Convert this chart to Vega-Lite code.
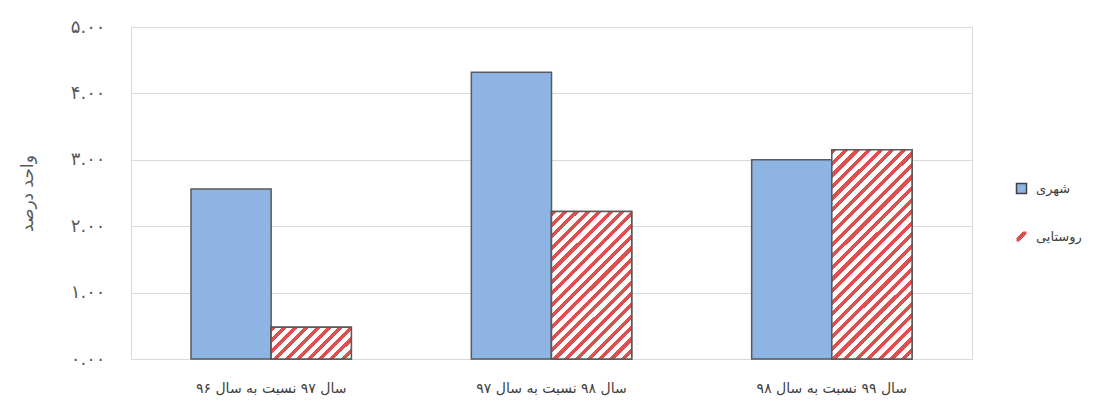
{
  "$schema": "https://vega.github.io/schema/vega-lite/v6.json",
  "width": 841,
  "height": 332,
  "autosize": "none",
  "padding": {"left": 131, "top": 27, "right": 127, "bottom": 46},
  "background": "#ffffff",
  "config": {
    "font": "DejaVu Sans",
    "view": {"stroke": "#d9d9d9", "strokeWidth": 1}
  },
  "data": {
    "values": [
      {"period": "سال ۹۷ نسبت به سال ۹۶", "series": "شهری", "value": 2.56},
      {"period": "سال ۹۷ نسبت به سال ۹۶", "series": "روستایی", "value": 0.48},
      {"period": "سال ۹۸ نسبت به سال ۹۷", "series": "شهری", "value": 4.32},
      {"period": "سال ۹۸ نسبت به سال ۹۷", "series": "روستایی", "value": 2.22},
      {"period": "سال ۹۹ نسبت به سال ۹۸", "series": "شهری", "value": 3.0},
      {"period": "سال ۹۹ نسبت به سال ۹۸", "series": "روستایی", "value": 3.15}
    ]
  },
  "encoding": {
    "x": {
      "field": "period", "type": "nominal",
      "sort": ["سال ۹۷ نسبت به سال ۹۶", "سال ۹۸ نسبت به سال ۹۷", "سال ۹۹ نسبت به سال ۹۸"],
      "scale": {"paddingInner": 0.428, "paddingOuter": 0.214},
      "axis": {"title": null, "labelAngle": 0, "labelFontSize": 14, "labelColor": "#404040", "labelPadding": 22, "ticks": false, "domainColor": "#d9d9d9", "grid": false}
    },
    "xOffset": {
      "field": "series", "type": "nominal",
      "scale": {"domain": ["شهری", "روستایی"], "paddingInner": 0, "paddingOuter": 0}
    },
    "y": {
      "field": "value", "type": "quantitative",
      "scale": {"domain": [0, 5], "nice": false},
      "axis": {
        "title": "واحد درصد", "titleFontSize": 17, "titleFontWeight": "normal", "titleColor": "#595959", "titlePadding": 34,
        "values": [0, 1, 2, 3, 4, 5],
        "labelExpr": "replace(replace(replace(replace(replace(replace(format(datum.value, '.2f'), regexp('0','g'), '۰'), regexp('1','g'), '۱'), regexp('2','g'), '۲'), regexp('3','g'), '۳'), regexp('4','g'), '۴'), regexp('5','g'), '۵')",
        "labelFontSize": 18, "labelColor": "#595959", "labelPadding": 26,
        "ticks": false, "domain": false, "gridColor": "#d9d9d9"
      }
    }
  },
  "layer": [
    {
      "transform": [{"filter": "datum.series === 'شهری'"}],
      "mark": {"type": "bar", "stroke": "#5a5a5a", "strokeWidth": 1.5},
      "encoding": {
        "color": {
          "field": "series", "type": "nominal",
          "scale": {"domain": ["شهری"], "range": ["#8db4e2"]},
          "legend": {
            "title": null, "orient": "none", "legendX": 884, "legendY": 155,
            "symbolType": "square", "symbolSize": 100, "symbolStrokeColor": "#404040", "symbolStrokeWidth": 1.5,
            "labelFontSize": 13, "labelColor": "#404040", "labelOffset": 8
          }
        }
      }
    },
    {
      "transform": [{"filter": "datum.series === 'روستایی'"}],
      "mark": {"type": "bar", "stroke": "#404040", "strokeOpacity": 1, "strokeWidth": 1.5, "fill": {"gradient": "linear", "x1": 0, "y1": 0, "x2": 1, "y2": 1, "stops": [
        {"offset": 0, "color": "#ffffff"}, {"offset": 0.3, "color": "#ffffff"}, {"offset": 0.3, "color": "#de5050"}, {"offset": 0.62, "color": "#de5050"}, {"offset": 0.62, "color": "#ffffff"}, {"offset": 1, "color": "#ffffff"}
      ]}},
      "encoding": {
        "opacity": {
          "field": "series", "type": "nominal",
          "scale": {"domain": ["روستایی"], "range": [1]},
          "legend": {
            "title": null, "orient": "none", "legendX": 884, "legendY": 203,
            "symbolType": "square", "symbolSize": 100, "symbolStrokeColor": "#404040", "symbolStrokeWidth": 1.5,
            "labelFontSize": 13, "labelColor": "#404040", "labelOffset": 8,
            "encode": {"symbols": {
              "enter": {"stroke": {"value": "#404040"}, "strokeWidth": {"value": 1.5}, "strokeOpacity": {"value": 1}},
              "update": {"stroke": {"value": "#404040"}, "strokeWidth": {"value": 1.5}, "strokeOpacity": {"value": 1}}
            }}
          }
        }
      }
    },
    {
      "transform": [{"filter": "datum.series === 'روستایی' && datum.period === 'سال ۹۷ نسبت به سال ۹۶'"}],
      "mark": {"type": "bar", "stroke": "#5a5a5a", "strokeWidth": 1.5, "fill": {"gradient": "linear", "x1": 0, "y1": 0, "x2": 1.2069, "y2": 0.4812, "stops": [
        {"offset": 0, "color": "#de5050"}, {"offset": 0.045, "color": "#de5050"}, {"offset": 0.045, "color": "#ffffff"}, {"offset": 0.1, "color": "#ffffff"},
        {"offset": 0.1, "color": "#de5050"}, {"offset": 0.145, "color": "#de5050"}, {"offset": 0.145, "color": "#ffffff"}, {"offset": 0.2, "color": "#ffffff"},
        {"offset": 0.2, "color": "#de5050"}, {"offset": 0.245, "color": "#de5050"}, {"offset": 0.245, "color": "#ffffff"}, {"offset": 0.3, "color": "#ffffff"},
        {"offset": 0.3, "color": "#de5050"}, {"offset": 0.345, "color": "#de5050"}, {"offset": 0.345, "color": "#ffffff"}, {"offset": 0.4, "color": "#ffffff"},
        {"offset": 0.4, "color": "#de5050"}, {"offset": 0.445, "color": "#de5050"}, {"offset": 0.445, "color": "#ffffff"}, {"offset": 0.5, "color": "#ffffff"},
        {"offset": 0.5, "color": "#de5050"}, {"offset": 0.545, "color": "#de5050"}, {"offset": 0.545, "color": "#ffffff"}, {"offset": 0.6, "color": "#ffffff"},
        {"offset": 0.6, "color": "#de5050"}, {"offset": 0.645, "color": "#de5050"}, {"offset": 0.645, "color": "#ffffff"}, {"offset": 0.7, "color": "#ffffff"},
        {"offset": 0.7, "color": "#de5050"}, {"offset": 0.745, "color": "#de5050"}, {"offset": 0.745, "color": "#ffffff"}, {"offset": 0.8, "color": "#ffffff"},
        {"offset": 0.8, "color": "#de5050"}, {"offset": 0.845, "color": "#de5050"}, {"offset": 0.845, "color": "#ffffff"}, {"offset": 0.9, "color": "#ffffff"},
        {"offset": 0.9, "color": "#de5050"}, {"offset": 0.945, "color": "#de5050"}, {"offset": 0.945, "color": "#ffffff"}, {"offset": 1, "color": "#ffffff"}
      ]}},
      "encoding": {}
    },
    {
      "transform": [{"filter": "datum.series === 'روستایی' && datum.period === 'سال ۹۸ نسبت به سال ۹۷'"}],
      "mark": {"type": "bar", "stroke": "#5a5a5a", "strokeWidth": 1.5, "fill": {"gradient": "linear", "x1": 0, "y1": 0, "x2": 0.6468, "y2": 1.1917, "stops": [
        {"offset": 0, "color": "#de5050"}, {"offset": 0.0225, "color": "#de5050"}, {"offset": 0.0225, "color": "#ffffff"}, {"offset": 0.05, "color": "#ffffff"},
        {"offset": 0.05, "color": "#de5050"}, {"offset": 0.0725, "color": "#de5050"}, {"offset": 0.0725, "color": "#ffffff"}, {"offset": 0.1, "color": "#ffffff"},
        {"offset": 0.1, "color": "#de5050"}, {"offset": 0.1225, "color": "#de5050"}, {"offset": 0.1225, "color": "#ffffff"}, {"offset": 0.15, "color": "#ffffff"},
        {"offset": 0.15, "color": "#de5050"}, {"offset": 0.1725, "color": "#de5050"}, {"offset": 0.1725, "color": "#ffffff"}, {"offset": 0.2, "color": "#ffffff"},
        {"offset": 0.2, "color": "#de5050"}, {"offset": 0.2225, "color": "#de5050"}, {"offset": 0.2225, "color": "#ffffff"}, {"offset": 0.25, "color": "#ffffff"},
        {"offset": 0.25, "color": "#de5050"}, {"offset": 0.2725, "color": "#de5050"}, {"offset": 0.2725, "color": "#ffffff"}, {"offset": 0.3, "color": "#ffffff"},
        {"offset": 0.3, "color": "#de5050"}, {"offset": 0.3225, "color": "#de5050"}, {"offset": 0.3225, "color": "#ffffff"}, {"offset": 0.35, "color": "#ffffff"},
        {"offset": 0.35, "color": "#de5050"}, {"offset": 0.3725, "color": "#de5050"}, {"offset": 0.3725, "color": "#ffffff"}, {"offset": 0.4, "color": "#ffffff"},
        {"offset": 0.4, "color": "#de5050"}, {"offset": 0.4225, "color": "#de5050"}, {"offset": 0.4225, "color": "#ffffff"}, {"offset": 0.45, "color": "#ffffff"},
        {"offset": 0.45, "color": "#de5050"}, {"offset": 0.4725, "color": "#de5050"}, {"offset": 0.4725, "color": "#ffffff"}, {"offset": 0.5, "color": "#ffffff"},
        {"offset": 0.5, "color": "#de5050"}, {"offset": 0.5225, "color": "#de5050"}, {"offset": 0.5225, "color": "#ffffff"}, {"offset": 0.55, "color": "#ffffff"},
        {"offset": 0.55, "color": "#de5050"}, {"offset": 0.5725, "color": "#de5050"}, {"offset": 0.5725, "color": "#ffffff"}, {"offset": 0.6, "color": "#ffffff"},
        {"offset": 0.6, "color": "#de5050"}, {"offset": 0.6225, "color": "#de5050"}, {"offset": 0.6225, "color": "#ffffff"}, {"offset": 0.65, "color": "#ffffff"},
        {"offset": 0.65, "color": "#de5050"}, {"offset": 0.6725, "color": "#de5050"}, {"offset": 0.6725, "color": "#ffffff"}, {"offset": 0.7, "color": "#ffffff"},
        {"offset": 0.7, "color": "#de5050"}, {"offset": 0.7225, "color": "#de5050"}, {"offset": 0.7225, "color": "#ffffff"}, {"offset": 0.75, "color": "#ffffff"},
        {"offset": 0.75, "color": "#de5050"}, {"offset": 0.7725, "color": "#de5050"}, {"offset": 0.7725, "color": "#ffffff"}, {"offset": 0.8, "color": "#ffffff"},
        {"offset": 0.8, "color": "#de5050"}, {"offset": 0.8225, "color": "#de5050"}, {"offset": 0.8225, "color": "#ffffff"}, {"offset": 0.85, "color": "#ffffff"},
        {"offset": 0.85, "color": "#de5050"}, {"offset": 0.8725, "color": "#de5050"}, {"offset": 0.8725, "color": "#ffffff"}, {"offset": 0.9, "color": "#ffffff"},
        {"offset": 0.9, "color": "#de5050"}, {"offset": 0.9225, "color": "#de5050"}, {"offset": 0.9225, "color": "#ffffff"}, {"offset": 0.95, "color": "#ffffff"},
        {"offset": 0.95, "color": "#de5050"}, {"offset": 0.9725, "color": "#de5050"}, {"offset": 0.9725, "color": "#ffffff"}, {"offset": 1, "color": "#ffffff"}
      ]}},
      "encoding": {}
    },
    {
      "transform": [{"filter": "datum.series === 'روستایی' && datum.period === 'سال ۹۹ نسبت به سال ۹۸'"}],
      "mark": {"type": "bar", "stroke": "#5a5a5a", "strokeWidth": 1.5, "fill": {"gradient": "linear", "x1": 0, "y1": 0, "x2": 0.4612, "y2": 1.206, "stops": [
        {"offset": 0, "color": "#de5050"}, {"offset": 0.018, "color": "#de5050"}, {"offset": 0.018, "color": "#ffffff"}, {"offset": 0.04, "color": "#ffffff"},
        {"offset": 0.04, "color": "#de5050"}, {"offset": 0.058, "color": "#de5050"}, {"offset": 0.058, "color": "#ffffff"}, {"offset": 0.08, "color": "#ffffff"},
        {"offset": 0.08, "color": "#de5050"}, {"offset": 0.098, "color": "#de5050"}, {"offset": 0.098, "color": "#ffffff"}, {"offset": 0.12, "color": "#ffffff"},
        {"offset": 0.12, "color": "#de5050"}, {"offset": 0.138, "color": "#de5050"}, {"offset": 0.138, "color": "#ffffff"}, {"offset": 0.16, "color": "#ffffff"},
        {"offset": 0.16, "color": "#de5050"}, {"offset": 0.178, "color": "#de5050"}, {"offset": 0.178, "color": "#ffffff"}, {"offset": 0.2, "color": "#ffffff"},
        {"offset": 0.2, "color": "#de5050"}, {"offset": 0.218, "color": "#de5050"}, {"offset": 0.218, "color": "#ffffff"}, {"offset": 0.24, "color": "#ffffff"},
        {"offset": 0.24, "color": "#de5050"}, {"offset": 0.258, "color": "#de5050"}, {"offset": 0.258, "color": "#ffffff"}, {"offset": 0.28, "color": "#ffffff"},
        {"offset": 0.28, "color": "#de5050"}, {"offset": 0.298, "color": "#de5050"}, {"offset": 0.298, "color": "#ffffff"}, {"offset": 0.32, "color": "#ffffff"},
        {"offset": 0.32, "color": "#de5050"}, {"offset": 0.338, "color": "#de5050"}, {"offset": 0.338, "color": "#ffffff"}, {"offset": 0.36, "color": "#ffffff"},
        {"offset": 0.36, "color": "#de5050"}, {"offset": 0.378, "color": "#de5050"}, {"offset": 0.378, "color": "#ffffff"}, {"offset": 0.4, "color": "#ffffff"},
        {"offset": 0.4, "color": "#de5050"}, {"offset": 0.418, "color": "#de5050"}, {"offset": 0.418, "color": "#ffffff"}, {"offset": 0.44, "color": "#ffffff"},
        {"offset": 0.44, "color": "#de5050"}, {"offset": 0.458, "color": "#de5050"}, {"offset": 0.458, "color": "#ffffff"}, {"offset": 0.48, "color": "#ffffff"},
        {"offset": 0.48, "color": "#de5050"}, {"offset": 0.498, "color": "#de5050"}, {"offset": 0.498, "color": "#ffffff"}, {"offset": 0.52, "color": "#ffffff"},
        {"offset": 0.52, "color": "#de5050"}, {"offset": 0.538, "color": "#de5050"}, {"offset": 0.538, "color": "#ffffff"}, {"offset": 0.56, "color": "#ffffff"},
        {"offset": 0.56, "color": "#de5050"}, {"offset": 0.578, "color": "#de5050"}, {"offset": 0.578, "color": "#ffffff"}, {"offset": 0.6, "color": "#ffffff"},
        {"offset": 0.6, "color": "#de5050"}, {"offset": 0.618, "color": "#de5050"}, {"offset": 0.618, "color": "#ffffff"}, {"offset": 0.64, "color": "#ffffff"},
        {"offset": 0.64, "color": "#de5050"}, {"offset": 0.658, "color": "#de5050"}, {"offset": 0.658, "color": "#ffffff"}, {"offset": 0.68, "color": "#ffffff"},
        {"offset": 0.68, "color": "#de5050"}, {"offset": 0.698, "color": "#de5050"}, {"offset": 0.698, "color": "#ffffff"}, {"offset": 0.72, "color": "#ffffff"},
        {"offset": 0.72, "color": "#de5050"}, {"offset": 0.738, "color": "#de5050"}, {"offset": 0.738, "color": "#ffffff"}, {"offset": 0.76, "color": "#ffffff"},
        {"offset": 0.76, "color": "#de5050"}, {"offset": 0.778, "color": "#de5050"}, {"offset": 0.778, "color": "#ffffff"}, {"offset": 0.8, "color": "#ffffff"},
        {"offset": 0.8, "color": "#de5050"}, {"offset": 0.818, "color": "#de5050"}, {"offset": 0.818, "color": "#ffffff"}, {"offset": 0.84, "color": "#ffffff"},
        {"offset": 0.84, "color": "#de5050"}, {"offset": 0.858, "color": "#de5050"}, {"offset": 0.858, "color": "#ffffff"}, {"offset": 0.88, "color": "#ffffff"},
        {"offset": 0.88, "color": "#de5050"}, {"offset": 0.898, "color": "#de5050"}, {"offset": 0.898, "color": "#ffffff"}, {"offset": 0.92, "color": "#ffffff"},
        {"offset": 0.92, "color": "#de5050"}, {"offset": 0.938, "color": "#de5050"}, {"offset": 0.938, "color": "#ffffff"}, {"offset": 0.96, "color": "#ffffff"},
        {"offset": 0.96, "color": "#de5050"}, {"offset": 0.978, "color": "#de5050"}, {"offset": 0.978, "color": "#ffffff"}, {"offset": 1, "color": "#ffffff"}
      ]}},
      "encoding": {}
    }
  ]
}
